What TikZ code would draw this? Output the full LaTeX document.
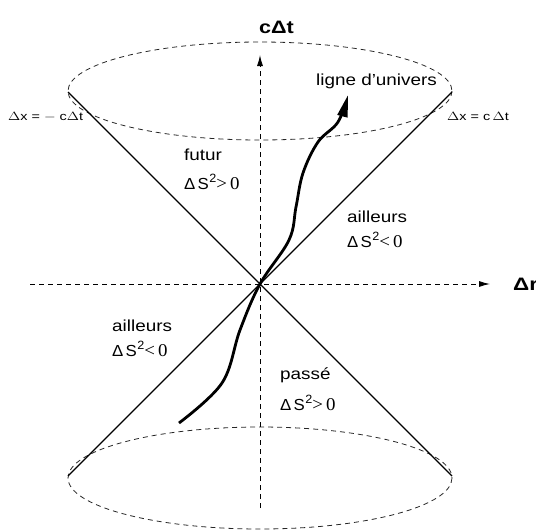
\documentclass[tikz,border=0pt]{standalone}
\usepackage{fontspec}
\usepackage{graphicx}
\setmainfont{Liberation Sans}
\newfontfamily\serifnum{Liberation Serif}
\usetikzlibrary{arrows.meta}
\newcommand{\stx}[2][1.18]{\scalebox{#1}[1]{#2}}
\newcommand{\dss}[1]{Δ\kern2pt S\kern0.5pt\raisebox{0.45em}{\fontsize{12}{12}\selectfont 2}{\serifnum\fontsize{18}{19}\selectfont #1\kern3pt 0}}
\tikzset{
  axisline/.style={line width=0.9pt, dash pattern=on 5pt off 4pt, -{Latex[length=11pt,width=6pt]}},
  ell/.style={line width=0.8pt, black!85, dash pattern=on 5pt off 4pt},
  cone/.style={line width=1.3pt},
  world/.style={line width=2.8pt, -{Triangle[length=22pt,width=10pt]}},
  lab/.style={inner sep=0pt, anchor=west, font=\fontsize{16}{19}\selectfont},
  small/.style={inner sep=0pt, font=\fontsize{11.5}{13}\selectfont},
  big/.style={inner sep=0pt, font=\fontsize{18}{20}\selectfont\bfseries},
}
\begin{document}
\begin{tikzpicture}[x=1pt,y=-1pt]
\useasboundingbox (0,0) rectangle (536,531);
% key points
\coordinate (O) at (260,284);
\coordinate (TL) at (68,92);
\coordinate (TR) at (452,92);
\coordinate (BL) at (68,476);
\coordinate (BR) at (452,476);
\coordinate (Xs) at (30,284);
\coordinate (Xe) at (490,284);
\coordinate (Ys) at (260,508);
\coordinate (Ye) at (260,55);
% ellipses
\draw[ell] (260,91) ellipse [x radius=192, y radius=49];
\draw[ell] (260,478) ellipse [x radius=192, y radius=51];
% axes
\draw[axisline] (Xs) -- (Xe);
\draw[axisline] (Ys) -- (Ye);
% cone
\draw[cone] (TL) -- (BR);
\draw[cone] (TR) -- (BL);
% world line
\draw[world] plot[smooth, tension=0.6] coordinates {(179,423) (222,383) (240,330) (260,284) (289,240) (296,207) (303,173) (318,142) (338,122) (348,95)};
% labels
\node[big, anchor=west] (ct) at (259,27) {\stx[1.2]{cΔt}};
\node[big, anchor=west] (dr) at (513,284) {\stx[1.25]{Δr}};
\node[lab] (wl) at (316,81) {\stx{ligne d'univers}};
\node[small, anchor=west] (lx) at (8,117) {\stx[1.25]{$\Delta$x = $-$ c$\Delta$t}};
\node[small, anchor=west] (rx) at (447,116) {\stx[1.25]{$\Delta$x = c$\,\Delta$t}};
\node[lab] (fu) at (184,155) {\stx{futur}};
\node[lab] (fs) at (184,182) {\stx[1.05]{\dss{>}}};
\node[lab] (ar) at (347,217) {\stx{ailleurs}};
\node[lab] (ars) at (347,240) {\stx[1.05]{\dss{<}}};
\node[lab] (al) at (112,326) {\stx{ailleurs}};
\node[lab] (als) at (112,349) {\stx[1.05]{\dss{<}}};
\node[lab] (pa) at (280,375) {\stx{passé}};
\node[lab] (pas) at (280,403) {\stx[1.05]{\dss{>}}};
\end{tikzpicture}
\end{document}
